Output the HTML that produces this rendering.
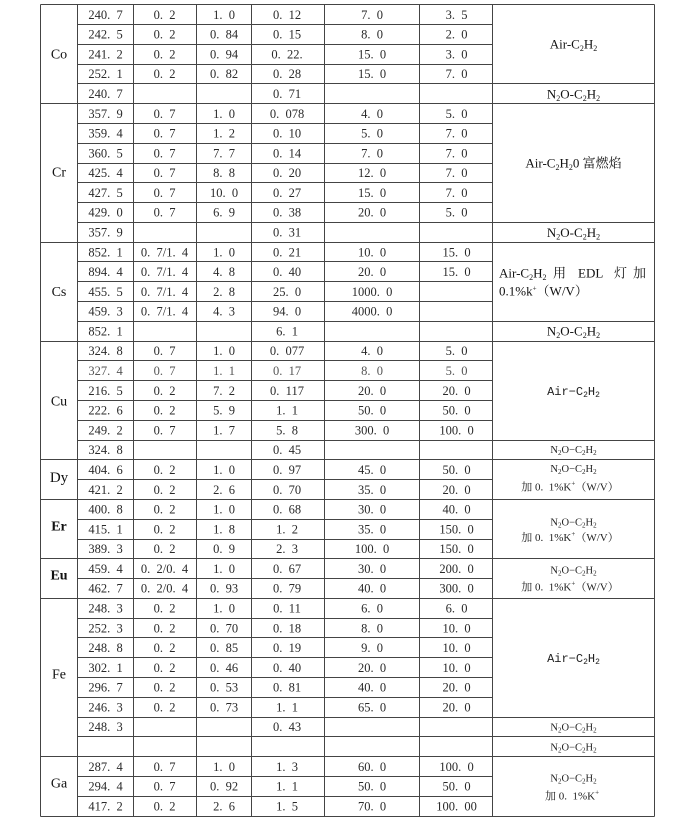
<!DOCTYPE html>
<html><head><meta charset="utf-8">
<style>
html,body{margin:0;padding:0;background:#fff;}
svg{display:block;}
.n{font-family:"Liberation Serif","Noto Serif CJK SC",serif;font-size:12.5px;fill:#2a2a2a;text-anchor:middle;}
.e{font-family:"Liberation Serif",serif;font-size:14px;fill:#111;text-anchor:middle;}
.t{font-family:"Liberation Serif","Noto Serif CJK SC",serif;font-size:13px;fill:#111;}
.m{font-family:"Liberation Mono",monospace;font-size:12px;fill:#222;text-anchor:middle;}
.s{font-family:"Liberation Serif","Noto Serif CJK SC",serif;font-size:10.5px;fill:#222;text-anchor:middle;}
.k{font-family:"Liberation Serif","Noto Serif CJK SC",serif;font-size:11px;fill:#222;text-anchor:middle;}
</style></head>
<body>
<svg width="700" height="820" viewBox="0 0 700 820" xmlns="http://www.w3.org/2000/svg">
<rect width="700" height="820" fill="#fff"/>
<path fill="none" stroke="#444" stroke-width="1" d="
M40.5 4.5V816.5 M77.5 4.5V816.5 M133.5 4.5V816.5 M196.5 4.5V816.5 M251.5 4.5V816.5 M324.5 4.5V816.5 M419.5 4.5V816.5 M492.5 4.5V816.5 M654.5 4.5V816.5
M40.5 4.5H654.5 M40.5 103.5H654.5 M40.5 242.5H654.5 M40.5 341.5H654.5 M40.5 459.5H654.5 M40.5 499.5H654.5 M40.5 558.5H654.5 M40.5 598.5H654.5 M40.5 756.5H654.5 M40.5 816.5H654.5
M77.5 24.5H492.5 M77.5 44.5H492.5 M77.5 64.5H492.5 M77.5 123.5H492.5 M77.5 143.5H492.5 M77.5 163.5H492.5 M77.5 182.5H492.5 M77.5 202.5H492.5 M77.5 261.5H492.5 M77.5 281.5H492.5 M77.5 301.5H492.5 M77.5 360.5H492.5 M77.5 380.5H492.5 M77.5 400.5H492.5 M77.5 420.5H492.5 M77.5 479.5H492.5 M77.5 519.5H492.5 M77.5 539.5H492.5 M77.5 578.5H492.5 M77.5 618.5H492.5 M77.5 637.5H492.5 M77.5 657.5H492.5 M77.5 677.5H492.5 M77.5 697.5H492.5 M77.5 776.5H492.5 M77.5 796.5H492.5
M77.5 83.5H654.5 M77.5 222.5H654.5 M77.5 321.5H654.5 M77.5 440.5H654.5 M77.5 717.5H654.5 M77.5 736.5H654.5
"/>

<!-- element labels -->
<text class="e" x="59" y="58.5">Co</text>
<text class="e" x="59" y="176.5">Cr</text>
<text class="e" x="59" y="296">Cs</text>
<text class="e" x="59" y="405.5">Cu</text>
<text class="e" x="59" y="482" style="font-size:15px">Dy</text>
<text class="e" x="59" y="530.5" font-weight="bold">Er</text>
<text class="e" x="59" y="579.5" font-weight="bold">Eu</text>
<text class="e" x="59" y="678.5">Fe</text>
<text class="e" x="59" y="787.5">Ga</text>

<!-- Co -->
<g class="n">
<text x="105.5" y="18.8">240.&#8194;7</text><text x="164.5" y="18.8">0.&#8194;2</text><text x="224" y="18.8">1.&#8194;0</text><text x="287" y="18.8">0.&#8194;12</text><text x="372" y="18.8">7.&#8194;0</text><text x="456.5" y="18.8">3.&#8194;5</text>
<text x="105.5" y="38.6">242.&#8194;5</text><text x="164.5" y="38.6">0.&#8194;2</text><text x="224" y="38.6">0.&#8194;84</text><text x="287" y="38.6">0.&#8194;15</text><text x="372" y="38.6">8.&#8194;0</text><text x="456.5" y="38.6">2.&#8194;0</text>
<text x="105.5" y="58.4">241.&#8194;2</text><text x="164.5" y="58.4">0.&#8194;2</text><text x="224" y="58.4">0.&#8194;94</text><text x="287" y="58.4">0.&#8194;22.</text><text x="372" y="58.4">15.&#8194;0</text><text x="456.5" y="58.4">3.&#8194;0</text>
<text x="105.5" y="78.2">252.&#8194;1</text><text x="164.5" y="78.2">0.&#8194;2</text><text x="224" y="78.2">0.&#8194;82</text><text x="287" y="78.2">0.&#8194;28</text><text x="372" y="78.2">15.&#8194;0</text><text x="456.5" y="78.2">7.&#8194;0</text>
<text x="105.5" y="98">240.&#8194;7</text><text x="287" y="98">0.&#8194;71</text>
</g>
<!-- Cr -->
<g class="n">
<text x="105.5" y="117.8">357.&#8194;9</text><text x="164.5" y="117.8">0.&#8194;7</text><text x="224" y="117.8">1.&#8194;0</text><text x="287" y="117.8">0.&#8194;078</text><text x="372" y="117.8">4.&#8194;0</text><text x="456.5" y="117.8">5.&#8194;0</text>
<text x="105.5" y="137.5">359.&#8194;4</text><text x="164.5" y="137.5">0.&#8194;7</text><text x="224" y="137.5">1.&#8194;2</text><text x="287" y="137.5">0.&#8194;10</text><text x="372" y="137.5">5.&#8194;0</text><text x="456.5" y="137.5">7.&#8194;0</text>
<text x="105.5" y="157.3">360.&#8194;5</text><text x="164.5" y="157.3">0.&#8194;7</text><text x="224" y="157.3">7.&#8194;7</text><text x="287" y="157.3">0.&#8194;14</text><text x="372" y="157.3">7.&#8194;0</text><text x="456.5" y="157.3">7.&#8194;0</text>
<text x="105.5" y="177.1">425.&#8194;4</text><text x="164.5" y="177.1">0.&#8194;7</text><text x="224" y="177.1">8.&#8194;8</text><text x="287" y="177.1">0.&#8194;20</text><text x="372" y="177.1">12.&#8194;0</text><text x="456.5" y="177.1">7.&#8194;0</text>
<text x="105.5" y="196.9">427.&#8194;5</text><text x="164.5" y="196.9">0.&#8194;7</text><text x="224" y="196.9">10.&#8194;0</text><text x="287" y="196.9">0.&#8194;27</text><text x="372" y="196.9">15.&#8194;0</text><text x="456.5" y="196.9">7.&#8194;0</text>
<text x="105.5" y="216.7">429.&#8194;0</text><text x="164.5" y="216.7">0.&#8194;7</text><text x="224" y="216.7">6.&#8194;9</text><text x="287" y="216.7">0.&#8194;38</text><text x="372" y="216.7">20.&#8194;0</text><text x="456.5" y="216.7">5.&#8194;0</text>
<text x="105.5" y="236.5">357.&#8194;9</text><text x="287" y="236.5">0.&#8194;31</text>
</g>
<!-- Cs -->
<g class="n">
<text x="105.5" y="256.3">852.&#8194;1</text><text x="164.5" y="256.3">0.&#8194;7/1.&#8194;4</text><text x="224" y="256.3">1.&#8194;0</text><text x="287" y="256.3">0.&#8194;21</text><text x="372" y="256.3">10.&#8194;0</text><text x="456.5" y="256.3">15.&#8194;0</text>
<text x="105.5" y="276.1">894.&#8194;4</text><text x="164.5" y="276.1">0.&#8194;7/1.&#8194;4</text><text x="224" y="276.1">4.&#8194;8</text><text x="287" y="276.1">0.&#8194;40</text><text x="372" y="276.1">20.&#8194;0</text><text x="456.5" y="276.1">15.&#8194;0</text>
<text x="105.5" y="295.9">455.&#8194;5</text><text x="164.5" y="295.9">0.&#8194;7/1.&#8194;4</text><text x="224" y="295.9">2.&#8194;8</text><text x="287" y="295.9">25.&#8194;0</text><text x="372" y="295.9">1000.&#8194;0</text>
<text x="105.5" y="315.7">459.&#8194;3</text><text x="164.5" y="315.7">0.&#8194;7/1.&#8194;4</text><text x="224" y="315.7">4.&#8194;3</text><text x="287" y="315.7">94.&#8194;0</text><text x="372" y="315.7">4000.&#8194;0</text>
<text x="105.5" y="335.4">852.&#8194;1</text><text x="287" y="335.4">6.&#8194;1</text>
</g>
<!-- Cu -->
<g class="n">
<text x="105.5" y="355.2">324.&#8194;8</text><text x="164.5" y="355.2">0.&#8194;7</text><text x="224" y="355.2">1.&#8194;0</text><text x="287" y="355.2">0.&#8194;077</text><text x="372" y="355.2">4.&#8194;0</text><text x="456.5" y="355.2">5.&#8194;0</text>
<text x="105.5" y="375" fill="#555">327.&#8194;4</text><text x="164.5" y="375" fill="#555">0.&#8194;7</text><text x="224" y="375" fill="#555">1.&#8194;1</text><text x="287" y="375" fill="#555">0.&#8194;17</text><text x="372" y="375" fill="#555">8.&#8194;0</text><text x="456.5" y="375" fill="#555">5.&#8194;0</text>
<text x="105.5" y="394.8">216.&#8194;5</text><text x="164.5" y="394.8">0.&#8194;2</text><text x="224" y="394.8">7.&#8194;2</text><text x="287" y="394.8">0.&#8194;117</text><text x="372" y="394.8">20.&#8194;0</text><text x="456.5" y="394.8">20.&#8194;0</text>
<text x="105.5" y="414.6">222.&#8194;6</text><text x="164.5" y="414.6">0.&#8194;2</text><text x="224" y="414.6">5.&#8194;9</text><text x="287" y="414.6">1.&#8194;1</text><text x="372" y="414.6">50.&#8194;0</text><text x="456.5" y="414.6">50.&#8194;0</text>
<text x="105.5" y="434.4">249.&#8194;2</text><text x="164.5" y="434.4">0.&#8194;7</text><text x="224" y="434.4">1.&#8194;7</text><text x="287" y="434.4">5.&#8194;8</text><text x="372" y="434.4">300.&#8194;0</text><text x="456.5" y="434.4">100.&#8194;0</text>
<text x="105.5" y="454.2">324.&#8194;8</text><text x="287" y="454.2">0.&#8194;45</text>
</g>
<!-- Dy -->
<g class="n">
<text x="105.5" y="474">404.&#8194;6</text><text x="164.5" y="474">0.&#8194;2</text><text x="224" y="474">1.&#8194;0</text><text x="287" y="474">0.&#8194;97</text><text x="372" y="474">45.&#8194;0</text><text x="456.5" y="474">50.&#8194;0</text>
<text x="105.5" y="493.8">421.&#8194;2</text><text x="164.5" y="493.8">0.&#8194;2</text><text x="224" y="493.8">2.&#8194;6</text><text x="287" y="493.8">0.&#8194;70</text><text x="372" y="493.8">35.&#8194;0</text><text x="456.5" y="493.8">20.&#8194;0</text>
</g>
<!-- Er -->
<g class="n">
<text x="105.5" y="513.5">400.&#8194;8</text><text x="164.5" y="513.5">0.&#8194;2</text><text x="224" y="513.5">1.&#8194;0</text><text x="287" y="513.5">0.&#8194;68</text><text x="372" y="513.5">30.&#8194;0</text><text x="456.5" y="513.5">40.&#8194;0</text>
<text x="105.5" y="533.3">415.&#8194;1</text><text x="164.5" y="533.3">0.&#8194;2</text><text x="224" y="533.3">1.&#8194;8</text><text x="287" y="533.3">1.&#8194;2</text><text x="372" y="533.3">35.&#8194;0</text><text x="456.5" y="533.3">150.&#8194;0</text>
<text x="105.5" y="553.1">389.&#8194;3</text><text x="164.5" y="553.1">0.&#8194;2</text><text x="224" y="553.1">0.&#8194;9</text><text x="287" y="553.1">2.&#8194;3</text><text x="372" y="553.1">100.&#8194;0</text><text x="456.5" y="553.1">150.&#8194;0</text>
</g>
<!-- Eu -->
<g class="n">
<text x="105.5" y="572.9">459.&#8194;4</text><text x="164.5" y="572.9">0.&#8194;2/0.&#8194;4</text><text x="224" y="572.9">1.&#8194;0</text><text x="287" y="572.9">0.&#8194;67</text><text x="372" y="572.9">30.&#8194;0</text><text x="456.5" y="572.9">200.&#8194;0</text>
<text x="105.5" y="592.7">462.&#8194;7</text><text x="164.5" y="592.7">0.&#8194;2/0.&#8194;4</text><text x="224" y="592.7">0.&#8194;93</text><text x="287" y="592.7">0.&#8194;79</text><text x="372" y="592.7">40.&#8194;0</text><text x="456.5" y="592.7">300.&#8194;0</text>
</g>
<!-- Fe -->
<g class="n">
<text x="105.5" y="612.5">248.&#8194;3</text><text x="164.5" y="612.5">0.&#8194;2</text><text x="224" y="612.5">1.&#8194;0</text><text x="287" y="612.5">0.&#8194;11</text><text x="372" y="612.5">6.&#8194;0</text><text x="456.5" y="612.5">6.&#8194;0</text>
<text x="105.5" y="632.3">252.&#8194;3</text><text x="164.5" y="632.3">0.&#8194;2</text><text x="224" y="632.3">0.&#8194;70</text><text x="287" y="632.3">0.&#8194;18</text><text x="372" y="632.3">8.&#8194;0</text><text x="456.5" y="632.3">10.&#8194;0</text>
<text x="105.5" y="652.1">248.&#8194;8</text><text x="164.5" y="652.1">0.&#8194;2</text><text x="224" y="652.1">0.&#8194;85</text><text x="287" y="652.1">0.&#8194;19</text><text x="372" y="652.1">9.&#8194;0</text><text x="456.5" y="652.1">10.&#8194;0</text>
<text x="105.5" y="671.9">302.&#8194;1</text><text x="164.5" y="671.9">0.&#8194;2</text><text x="224" y="671.9">0.&#8194;46</text><text x="287" y="671.9">0.&#8194;40</text><text x="372" y="671.9">20.&#8194;0</text><text x="456.5" y="671.9">10.&#8194;0</text>
<text x="105.5" y="691.7">296.&#8194;7</text><text x="164.5" y="691.7">0.&#8194;2</text><text x="224" y="691.7">0.&#8194;53</text><text x="287" y="691.7">0.&#8194;81</text><text x="372" y="691.7">40.&#8194;0</text><text x="456.5" y="691.7">20.&#8194;0</text>
<text x="105.5" y="711.5">246.&#8194;3</text><text x="164.5" y="711.5">0.&#8194;2</text><text x="224" y="711.5">0.&#8194;73</text><text x="287" y="711.5">1.&#8194;1</text><text x="372" y="711.5">65.&#8194;0</text><text x="456.5" y="711.5">20.&#8194;0</text>
<text x="105.5" y="731.2">248.&#8194;3</text><text x="287" y="731.2">0.&#8194;43</text>
</g>
<!-- Ga -->
<g class="n">
<text x="105.5" y="770.8">287.&#8194;4</text><text x="164.5" y="770.8">0.&#8194;7</text><text x="224" y="770.8">1.&#8194;0</text><text x="287" y="770.8">1.&#8194;3</text><text x="372" y="770.8">60.&#8194;0</text><text x="456.5" y="770.8">100.&#8194;0</text>
<text x="105.5" y="790.6">294.&#8194;4</text><text x="164.5" y="790.6">0.&#8194;7</text><text x="224" y="790.6">0.&#8194;92</text><text x="287" y="790.6">1.&#8194;1</text><text x="372" y="790.6">50.&#8194;0</text><text x="456.5" y="790.6">50.&#8194;0</text>
<text x="105.5" y="810.4">417.&#8194;2</text><text x="164.5" y="810.4">0.&#8194;2</text><text x="224" y="810.4">2.&#8194;6</text><text x="287" y="810.4">1.&#8194;5</text><text x="372" y="810.4">70.&#8194;0</text><text x="456.5" y="810.4">100.&#8194;00</text>
</g>

<!-- Flame column -->
<!-- Co -->
<text class="t" x="573.5" y="48.5" text-anchor="middle">Air-C<tspan font-size="8" dy="2.5">2</tspan><tspan dy="-2.5">H</tspan><tspan font-size="8" dy="2.5">2</tspan></text>
<text class="t" x="573.5" y="98.3" text-anchor="middle">N<tspan font-size="8" dy="2.5">2</tspan><tspan dy="-2.5">O-C</tspan><tspan font-size="8" dy="2.5">2</tspan><tspan dy="-2.5">H</tspan><tspan font-size="8" dy="2.5">2</tspan></text>
<!-- Cr -->
<text class="t" x="573.5" y="167.5" text-anchor="middle">Air-C<tspan font-size="8" dy="2.5">2</tspan><tspan dy="-2.5">H</tspan><tspan font-size="8" dy="2.5">2</tspan><tspan dy="-2.5">0 富燃焰</tspan></text>
<text class="t" x="573.5" y="236.8" text-anchor="middle">N<tspan font-size="8" dy="2.5">2</tspan><tspan dy="-2.5">O-C</tspan><tspan font-size="8" dy="2.5">2</tspan><tspan dy="-2.5">H</tspan><tspan font-size="8" dy="2.5">2</tspan></text>
<!-- Cs -->
<text class="t" x="499" y="277.5">Air-C<tspan font-size="8" dy="2.5">2</tspan><tspan dy="-2.5">H</tspan><tspan font-size="8" dy="2.5">2</tspan></text>
<text class="t" x="553" y="277.5">用</text>
<text class="t" x="578" y="277.5">EDL</text>
<text class="t" x="614" y="277.5">灯</text>
<text class="t" x="633" y="277.5">加</text>
<text class="t" x="499" y="295.5">0.1%k<tspan font-size="7" dy="-5">+</tspan><tspan dy="5">（W/V）</tspan></text>
<text class="t" x="573.5" y="335.6" text-anchor="middle">N<tspan font-size="8" dy="2.5">2</tspan><tspan dy="-2.5">O-C</tspan><tspan font-size="8" dy="2.5">2</tspan><tspan dy="-2.5">H</tspan><tspan font-size="8" dy="2.5">2</tspan></text>
<!-- Cu -->
<text class="m" x="573.5" y="395">Air−C<tspan font-size="8" dy="2">2</tspan><tspan dy="-2">H</tspan><tspan font-size="8" dy="2">2</tspan></text>
<text class="s" x="573.5" y="452.8">N<tspan font-size="7" dy="2">2</tspan><tspan dy="-2">O−C</tspan><tspan font-size="7" dy="2">2</tspan><tspan dy="-2">H</tspan><tspan font-size="7" dy="2">2</tspan></text>
<!-- Dy -->
<text class="s" x="573.5" y="472">N<tspan font-size="7" dy="2">2</tspan><tspan dy="-2">O−C</tspan><tspan font-size="7" dy="2">2</tspan><tspan dy="-2">H</tspan><tspan font-size="7" dy="2">2</tspan></text>
<text class="k" x="570" y="490.5">加 0.&#8194;1%K<tspan font-size="7" dy="-5">+</tspan><tspan dy="5">（W/V）</tspan></text>
<!-- Er -->
<text class="s" x="573.5" y="525.5">N<tspan font-size="7" dy="2">2</tspan><tspan dy="-2">O−C</tspan><tspan font-size="7" dy="2">2</tspan><tspan dy="-2">H</tspan><tspan font-size="7" dy="2">2</tspan></text>
<text class="k" x="570" y="541">加 0.&#8194;1%K<tspan font-size="7" dy="-5">+</tspan><tspan dy="5">（W/V）</tspan></text>
<!-- Eu -->
<text class="s" x="573.5" y="573.5">N<tspan font-size="7" dy="2">2</tspan><tspan dy="-2">O−C</tspan><tspan font-size="7" dy="2">2</tspan><tspan dy="-2">H</tspan><tspan font-size="7" dy="2">2</tspan></text>
<text class="k" x="570" y="590.5">加 0.&#8194;1%K<tspan font-size="7" dy="-5">+</tspan><tspan dy="5">（W/V）</tspan></text>
<!-- Fe -->
<text class="m" x="573.5" y="662">Air−C<tspan font-size="8" dy="2">2</tspan><tspan dy="-2">H</tspan><tspan font-size="8" dy="2">2</tspan></text>
<text class="s" x="573.5" y="730.5">N<tspan font-size="7" dy="2">2</tspan><tspan dy="-2">O−C</tspan><tspan font-size="7" dy="2">2</tspan><tspan dy="-2">H</tspan><tspan font-size="7" dy="2">2</tspan></text>
<text class="s" x="573.5" y="750.3">N<tspan font-size="7" dy="2">2</tspan><tspan dy="-2">O−C</tspan><tspan font-size="7" dy="2">2</tspan><tspan dy="-2">H</tspan><tspan font-size="7" dy="2">2</tspan></text>
<!-- Ga -->
<text class="s" x="573.5" y="781.5">N<tspan font-size="7" dy="2">2</tspan><tspan dy="-2">O−C</tspan><tspan font-size="7" dy="2">2</tspan><tspan dy="-2">H</tspan><tspan font-size="7" dy="2">2</tspan></text>
<text class="k" x="572" y="799.5">加 0.&#8194;1%K<tspan font-size="7" dy="-5">+</tspan></text>
</svg>
</body></html>
